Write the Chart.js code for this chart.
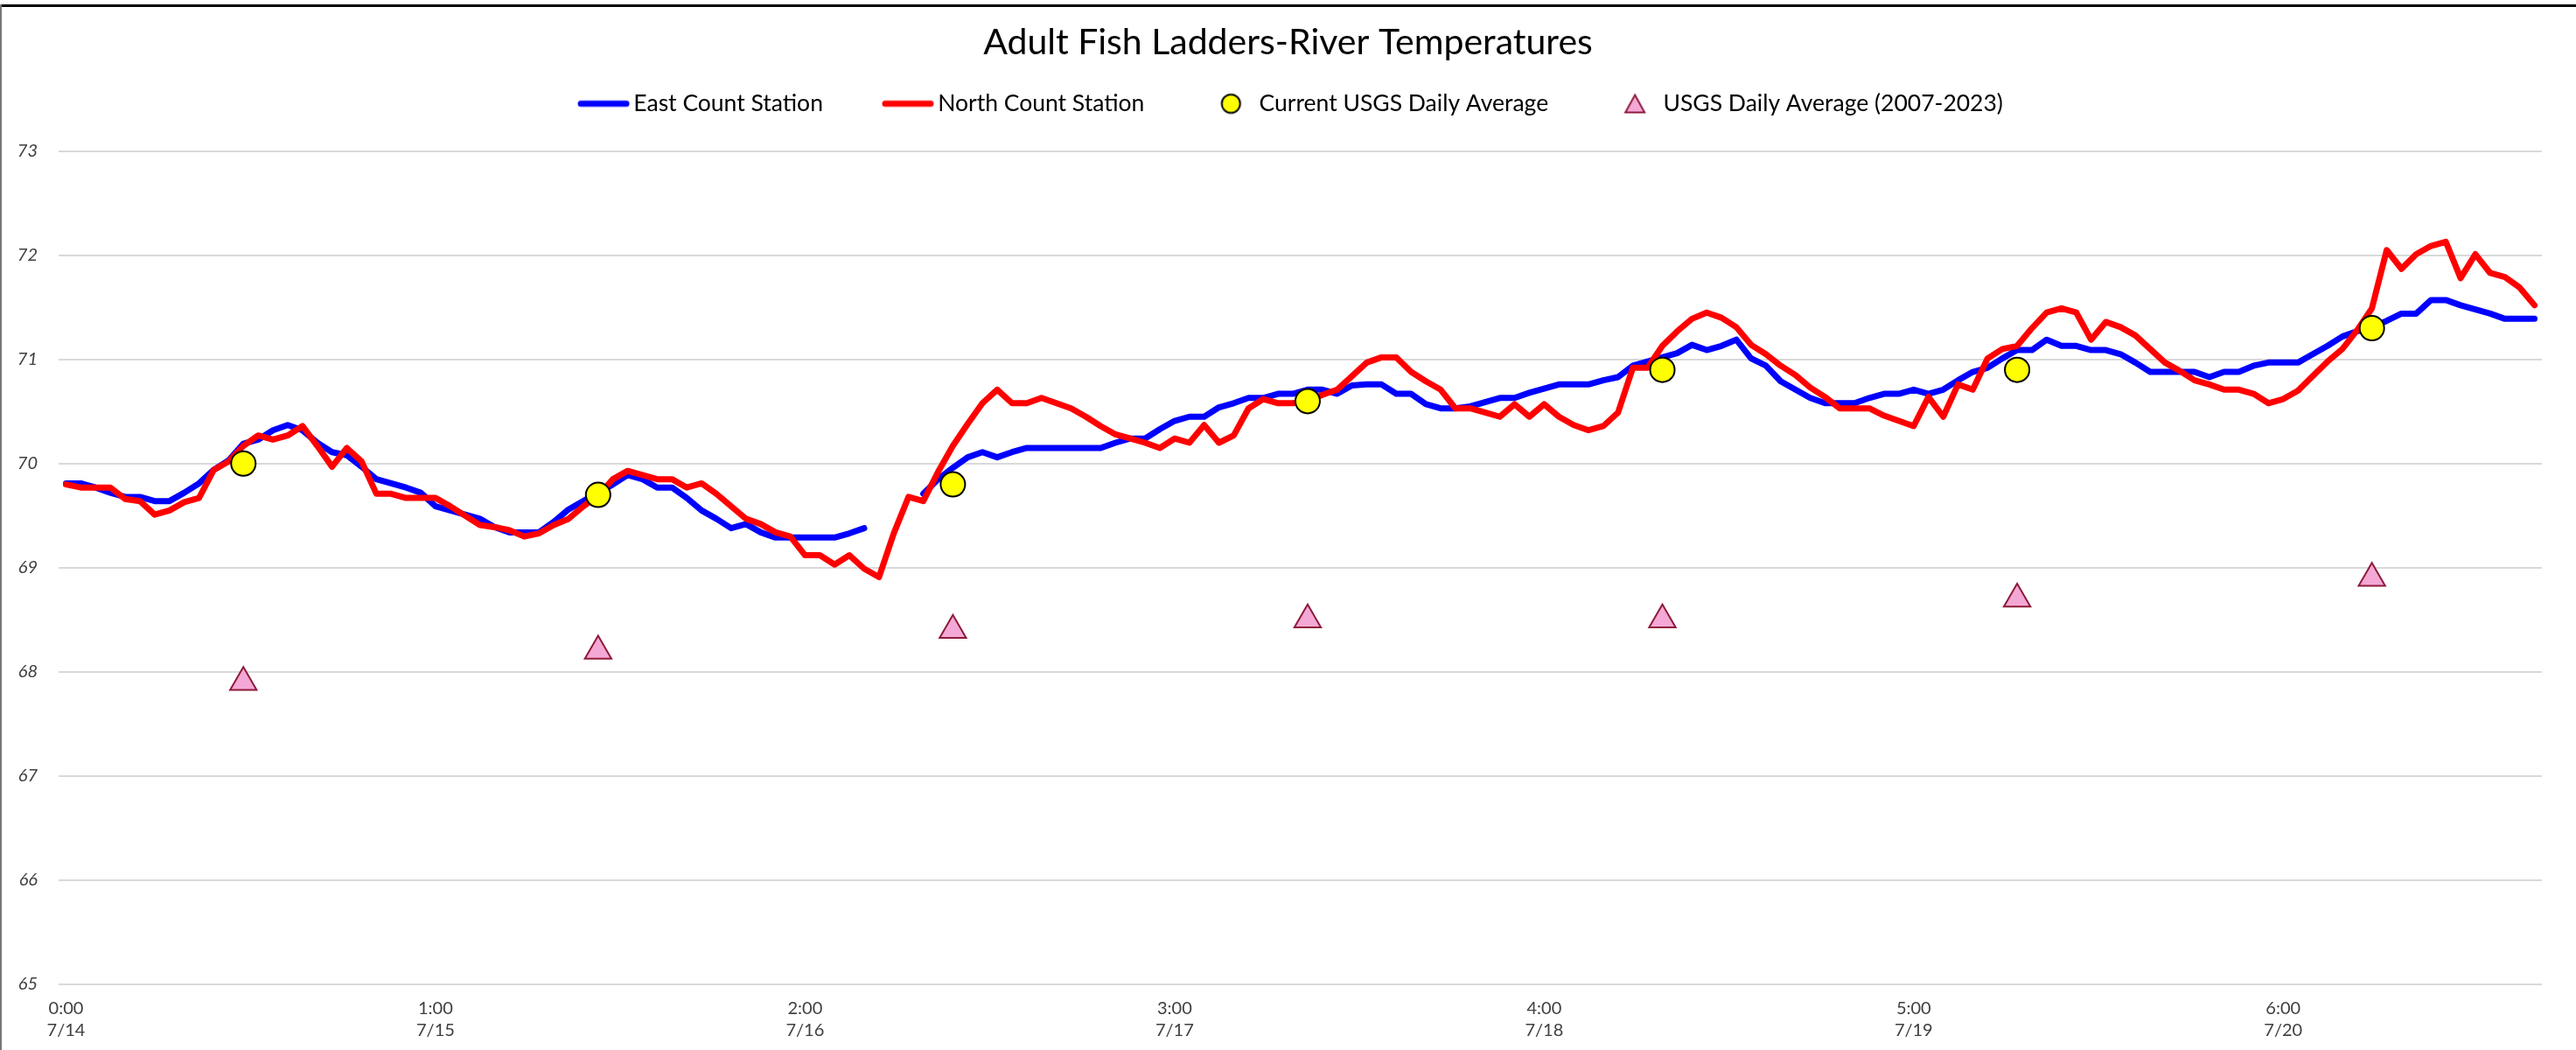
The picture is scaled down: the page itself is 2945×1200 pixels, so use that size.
<!DOCTYPE html>
<html>
<head>
<meta charset="utf-8">
<title>Adult Fish Ladders-River Temperatures</title>
<script src="https://cdn.jsdelivr.net/npm/chart.js@4.4.1/dist/chart.umd.min.js"></script>
<style>
  html, body { margin: 0; padding: 0; background: #fff; }
  #wrap { position: relative; width: 2945px; height: 1200px; overflow: hidden; }
  #wrap canvas { position: absolute; left: 0; top: 0; }
  #frameTop { position: absolute; left: 0; top: 5px; width: 2945px; height: 3px; background: #000; }
  #frameLeft { position: absolute; left: 0; top: 5px; width: 2px; height: 1195px; background: #767676; }
</style>
</head>
<body>
<div id="wrap">
  <canvas id="tempChart" width="2945" height="1200"></canvas>
  <div id="frameTop"></div>
  <div id="frameLeft"></div>
</div>
<script>
// hourly readings, 7/14 0:00 .. 7/20 23:00
const days = ['7/14', '7/15', '7/16', '7/17', '7/18', '7/19', '7/20'];
const categories = [];
days.forEach((d) => {
  for (let h = 0; h < 24; h++) categories.push(d + ' ' + h + ':00');
});
const tickEvery = 25; // excel shows a label every 25th category

const eastStation = [
  69.81, 69.81, 69.77, 69.72, 69.68, 69.68, 69.64, 69.64, 69.72, 69.81, 69.94, 70.03,
  70.19, 70.23, 70.32, 70.37, 70.32, 70.20, 70.11, 70.08, 69.97, 69.85, 69.81, 69.77,
  69.72, 69.59, 69.55, 69.51, 69.47, 69.39, 69.34, 69.34, 69.34, 69.44, 69.56, 69.64,
  69.72, 69.80, 69.89, 69.85, 69.77, 69.77, 69.67, 69.55, 69.47, 69.38, 69.42, 69.34,
  69.29, 69.29, 69.29, 69.29, 69.29, 69.33, 69.38, null, null, null, 69.71, 69.85,
  69.96, 70.06, 70.11, 70.06, 70.11, 70.15, 70.15, 70.15, 70.15, 70.15, 70.15, 70.20,
  70.24, 70.24, 70.33, 70.41, 70.45, 70.45, 70.54, 70.58, 70.63, 70.63, 70.67, 70.67,
  70.71, 70.71, 70.67, 70.75, 70.76, 70.76, 70.67, 70.67, 70.57, 70.53, 70.53, 70.55,
  70.59, 70.63, 70.63, 70.68, 70.72, 70.76, 70.76, 70.76, 70.80, 70.83, 70.94, 70.98,
  71.02, 71.06, 71.14, 71.09, 71.13, 71.19, 71.01, 70.94, 70.79, 70.71, 70.63, 70.58,
  70.58, 70.58, 70.63, 70.67, 70.67, 70.71, 70.67, 70.71, 70.80, 70.88, 70.92, 71.01,
  71.09, 71.09, 71.19, 71.13, 71.13, 71.09, 71.09, 71.05, 70.97, 70.88, 70.88, 70.88,
  70.88, 70.83, 70.88, 70.88, 70.94, 70.97, 70.97, 70.97, 71.05, 71.13, 71.22, 71.27,
  71.31, 71.37, 71.44, 71.44, 71.57, 71.57, 71.52, 71.48, 71.44, 71.39, 71.39, 71.39
];

const northStation = [
  69.80, 69.77, 69.77, 69.77, 69.66, 69.64, 69.51, 69.55, 69.63, 69.67, 69.94, 70.02,
  70.17, 70.27, 70.23, 70.27, 70.36, 70.17, 69.97, 70.15, 70.02, 69.71, 69.71, 69.67,
  69.67, 69.67, 69.59, 69.50, 69.41, 69.39, 69.36, 69.30, 69.33, 69.41, 69.47, 69.59,
  69.69, 69.85, 69.93, 69.89, 69.85, 69.85, 69.77, 69.81, 69.71, 69.59, 69.47, 69.42,
  69.34, 69.30, 69.12, 69.12, 69.03, 69.12, 68.99, 68.91, 69.33, 69.68, 69.64, 69.92,
  70.17, 70.38, 70.58, 70.71, 70.58, 70.58, 70.63, 70.58, 70.53, 70.45, 70.36, 70.28,
  70.24, 70.20, 70.15, 70.24, 70.20, 70.37, 70.20, 70.27, 70.53, 70.62, 70.58, 70.58,
  70.60, 70.66, 70.71, 70.84, 70.97, 71.02, 71.02, 70.88, 70.79, 70.71, 70.53, 70.53,
  70.49, 70.45, 70.57, 70.45, 70.57, 70.45, 70.37, 70.32, 70.36, 70.49, 70.92, 70.92,
  71.13, 71.27, 71.39, 71.45, 71.40, 71.31, 71.14, 71.05, 70.94, 70.85, 70.73, 70.64,
  70.53, 70.53, 70.53, 70.46, 70.41, 70.36, 70.64, 70.45, 70.76, 70.71, 71.01, 71.10,
  71.13, 71.30, 71.45, 71.49, 71.45, 71.19, 71.36, 71.31, 71.23, 71.10, 70.97, 70.89,
  70.80, 70.76, 70.71, 70.71, 70.67, 70.58, 70.62, 70.70, 70.84, 70.98, 71.10, 71.28,
  71.49, 72.05, 71.87, 72.01, 72.09, 72.13, 71.78, 72.01, 71.83, 71.79, 71.69, 71.52
];

// daily averages, plotted at noon
const dailyTimes = ['7/14 12:00', '7/15 12:00', '7/16 12:00', '7/17 12:00', '7/18 12:00', '7/19 12:00', '7/20 12:00'];
const currentDaily = [70.0, 69.7, 69.8, 70.6, 70.9, 70.9, 71.3];
const historicDaily = [67.9, 68.2, 68.4, 68.5, 68.5, 68.7, 68.9];

const yTicks = { min: 65, max: 73, step: 1 };

const EAST_COLOR = '#0000FF';
const NORTH_COLOR = '#FF0000';
const CIRCLE_FILL = '#FFFF00';
const TRI_FILL = '#F4A8D6';
const TRI_EDGE = '#8E1B3A';

// small canvases used as legend symbols (drawn centred on a 56px box)
const makeSymbol = (w, draw) => {
  const c = document.createElement('canvas');
  c.width = w;
  c.height = 26;
  draw(c.getContext('2d'));
  return c;
};
const lineSymbol = (color) => makeSymbol(80, (g) => {
  g.strokeStyle = color;
  g.lineWidth = 7;
  g.lineCap = 'round';
  g.beginPath();
  g.moveTo(21, 13);
  g.lineTo(73, 13);
  g.stroke();
});
const circleSymbol = makeSymbol(56, (g) => {
  g.fillStyle = CIRCLE_FILL;
  g.strokeStyle = '#000';
  g.lineWidth = 2;
  g.beginPath();
  g.arc(37, 13, 10.5, 0, Math.PI * 2);
  g.fill();
  g.stroke();
});
const triangleSymbol = makeSymbol(56, (g) => {
  g.fillStyle = TRI_FILL;
  g.strokeStyle = TRI_EDGE;
  g.lineWidth = 2;
  g.beginPath();
  g.moveTo(37, 3);
  g.lineTo(48, 23);
  g.lineTo(26, 23);
  g.closePath();
  g.fill();
  g.stroke();
});
const legendSymbols = [lineSymbol(EAST_COLOR), lineSymbol(NORTH_COLOR), circleSymbol, triangleSymbol];

const LEGEND_EXTRA = 31;

// legend needs a wider gap to the plot than its item padding gives,
// and title + legend are centred on the whole canvas like in excel
const legendGap = {
  id: 'legendGap',
  beforeInit(chart) {
    const fit = chart.legend.fit;
    chart.legend.fit = function () {
      fit.call(this);
      this.height += LEGEND_EXTRA;
    };
  },
  afterLayout(chart) {
    chart.legend.right = chart.width;
    chart.titleBlock.right = chart.width;
  }
};

const ctx = document.getElementById('tempChart');

const data = {
  labels: categories,
  datasets: [
    {
      label: 'East Count Station',
      data: eastStation,
      borderColor: EAST_COLOR,
      backgroundColor: EAST_COLOR,
      borderWidth: 7,
      pointRadius: 0,
      tension: 0,
      spanGaps: false,
      borderJoinStyle: 'round',
      borderCapStyle: 'round',
      order: 3
    },
    {
      label: 'North Count Station',
      data: northStation,
      borderColor: NORTH_COLOR,
      backgroundColor: NORTH_COLOR,
      borderWidth: 7,
      pointRadius: 0,
      tension: 0,
      borderJoinStyle: 'round',
      borderCapStyle: 'round',
      order: 2
    },
    {
      label: 'Current USGS Daily Average',
      data: dailyTimes.map((t, i) => ({ x: t, y: currentDaily[i] })),
      showLine: false,
      pointStyle: 'circle',
      pointRadius: 14,
      pointBackgroundColor: CIRCLE_FILL,
      pointBorderColor: '#000',
      pointBorderWidth: 2,
      order: 1
    },
    {
      label: 'USGS Daily Average (2007-2023)',
      data: dailyTimes.map((t, i) => ({ x: t, y: historicDaily[i] })),
      showLine: false,
      pointStyle: 'triangle',
      pointRadius: 17.5,
      pointBackgroundColor: TRI_FILL,
      pointBorderColor: TRI_EDGE,
      pointBorderWidth: 2,
      order: 0
    }
  ]
};

const config = {
  type: 'line',
  data,
  plugins: [legendGap],
  options: {
    responsive: false,
    animation: false,
    devicePixelRatio: 1,
    layout: { padding: { left: 0, right: 39, top: 0, bottom: 0 } },
    plugins: {
      tooltip: { enabled: false },
      title: {
        display: true,
        text: 'Adult Fish Ladders-River Temperatures',
        color: '#000',
        font: { family: 'Lato', size: 41, weight: 'normal', lineHeight: 1.2 },
        padding: { top: 24, bottom: -30 }
      },
      legend: {
        display: true,
        position: 'top',
        labels: {
          usePointStyle: true,
          pointStyleWidth: 56,
          padding: 62,
          color: '#000',
          font: { family: 'Lato', size: 26.5 },
          generateLabels: (chart) => chart.data.datasets.map((ds, i) => ({
            text: ds.label,
            pointStyle: legendSymbols[i],
            fillStyle: 'transparent',
            strokeStyle: 'transparent',
            lineWidth: 0,
            hidden: false,
            datasetIndex: i
          }))
        }
      }
    },
    scales: {
      x: {
        type: 'category',
        offset: true,
        grid: { display: false, drawTicks: false },
        border: { display: false },
        afterFit: (scale) => { scale.height = 75; },
        ticks: {
          autoSkip: false,
          maxRotation: 0,
          minRotation: 0,
          padding: 15,
          color: '#404040',
          font: { family: 'Lato', size: 20, lineHeight: 1.25 },
          callback: (value, index) => {
            if (index % tickEvery !== 0) return null;
            const [d, t] = categories[index].split(' ');
            return [t, d];
          }
        }
      },
      y: {
        min: yTicks.min,
        max: yTicks.max,
        afterFit: (scale) => { scale.width = 67; },
        grid: { color: '#D9D9D9', lineWidth: 2, drawTicks: false },
        border: { display: false },
        ticks: {
          stepSize: yTicks.step,
          padding: 24,
          color: '#404040',
          font: { family: 'Lato', size: 20, style: 'italic' }
        }
      }
    }
  }
};

new Chart(ctx, config);
</script>
</body>
</html>
